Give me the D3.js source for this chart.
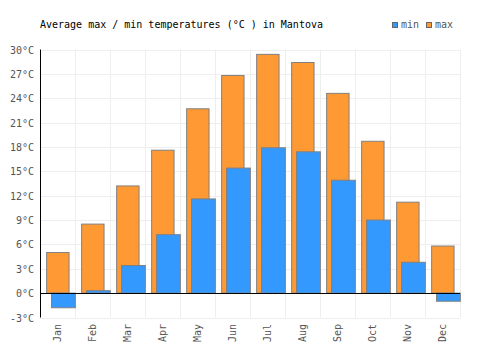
<!DOCTYPE html>
<html>
<head>
<meta charset="utf-8">
<script src="https://cdn.jsdelivr.net/npm/d3@7"></script>
<style>
  body { margin: 0; background: #fff; }
  svg { display: block; font-family: "DejaVu Sans Mono", monospace; }
</style>
</head>
<body>
<svg id="chart" width="500" height="350"></svg>
<script>
const months = ['Jan', 'Feb', 'Mar', 'Apr', 'May', 'Jun', 'Jul', 'Aug', 'Sep', 'Oct', 'Nov', 'Dec'];
const maxTemps = [5.0, 8.5, 13.2, 17.6, 22.7, 26.8, 29.4, 28.4, 24.6, 18.7, 11.2, 5.8];
const minTemps = [-1.8, 0.3, 3.4, 7.2, 11.6, 15.4, 17.9, 17.4, 13.9, 9.0, 3.8, -1.0];
const yTicks = [-3, 0, 3, 6, 9, 12, 15, 18, 21, 24, 27, 30];

const svg = d3.select('#chart');
const plotLeft = 40, plotRight = 460, plotTop = 49.5, plotBottom = 317.5;

const x = d3.scaleBand(months, [plotLeft, plotRight]);
const y = d3.scaleLinear([-3, 30], [plotBottom, plotTop]);
const bw = x.bandwidth();

// grid
svg.append('g')
  .selectAll('line')
  .data(yTicks)
  .join('line')
  .attr('x1', plotLeft).attr('x2', plotRight)
  .attr('y1', (d) => Math.round(y(d)) + 0.5)
  .attr('y2', (d) => Math.round(y(d)) + 0.5)
  .attr('stroke', '#eeeeee');

svg.append('g')
  .selectAll('line')
  .data(months)
  .join('line')
  .attr('x1', (d) => Math.round(x(d) + bw) + 0.5)
  .attr('x2', (d) => Math.round(x(d) + bw) + 0.5)
  .attr('y1', plotTop).attr('y2', plotBottom)
  .attr('stroke', '#eeeeee');

// max bars
svg.append('g')
  .selectAll('rect')
  .data(maxTemps)
  .join('rect')
  .attr('x', (d, i) => x(months[i]) + bw * 0.19)
  .attr('width', bw * 0.64)
  .attr('y', (d) => y(Math.max(d, 0)))
  .attr('height', (d) => Math.abs(y(d) - y(0)))
  .attr('fill', '#ff9933')
  .attr('stroke', '#808080');

// min bars
svg.append('g')
  .selectAll('rect')
  .data(minTemps)
  .join('rect')
  .attr('x', (d, i) => x(months[i]) + bw * 0.33)
  .attr('width', bw * 0.68)
  .attr('y', (d) => y(Math.max(d, 0)))
  .attr('height', (d) => Math.abs(y(d) - y(0)))
  .attr('fill', '#3399ff')
  .attr('stroke', '#808080');

// zero line and left axis
svg.append('line')
  .attr('x1', plotLeft).attr('x2', plotRight)
  .attr('y1', Math.round(y(0)) + 0.5).attr('y2', Math.round(y(0)) + 0.5)
  .attr('stroke', '#000');
svg.append('line')
  .attr('x1', plotLeft + 0.5).attr('x2', plotLeft + 0.5)
  .attr('y1', plotTop).attr('y2', plotBottom)
  .attr('stroke', '#000');

// y labels
svg.append('g')
  .selectAll('text')
  .data(yTicks)
  .join('text')
  .attr('x', 34)
  .attr('y', (d) => y(d) + 4)
  .attr('text-anchor', 'end')
  .attr('font-size', 10)
  .attr('fill', '#555')
  .text((d) => `${d}°C`);

// x labels
svg.append('g')
  .selectAll('text')
  .data(months)
  .join('text')
  .attr('transform', (d) => `translate(${x(d) + bw / 2 + 3.5},324) rotate(-90)`)
  .attr('text-anchor', 'end')
  .attr('font-size', 10)
  .attr('fill', '#555')
  .text((d) => d);

// title
svg.append('text')
  .attr('x', 40).attr('y', 28)
  .attr('font-size', 10)
  .attr('fill', '#000')
  .text('Average max / min temperatures (°C ) in Mantova');

// legend
const legend = [
  { label: 'min', color: '#3399ff', x: 392 },
  { label: 'max', color: '#ff9933', x: 426 },
];
const lg = svg.append('g')
  .selectAll('g')
  .data(legend)
  .join('g')
  .attr('transform', (d) => `translate(${d.x},22)`);
lg.append('rect')
  .attr('x', 0.5).attr('y', 0.5)
  .attr('width', 5).attr('height', 5)
  .attr('fill', (d) => d.color)
  .attr('stroke', '#666');
lg.append('text')
  .attr('x', 9).attr('y', 6)
  .attr('font-size', 10)
  .attr('fill', '#555')
  .text((d) => d.label);
</script>
</body>
</html>
